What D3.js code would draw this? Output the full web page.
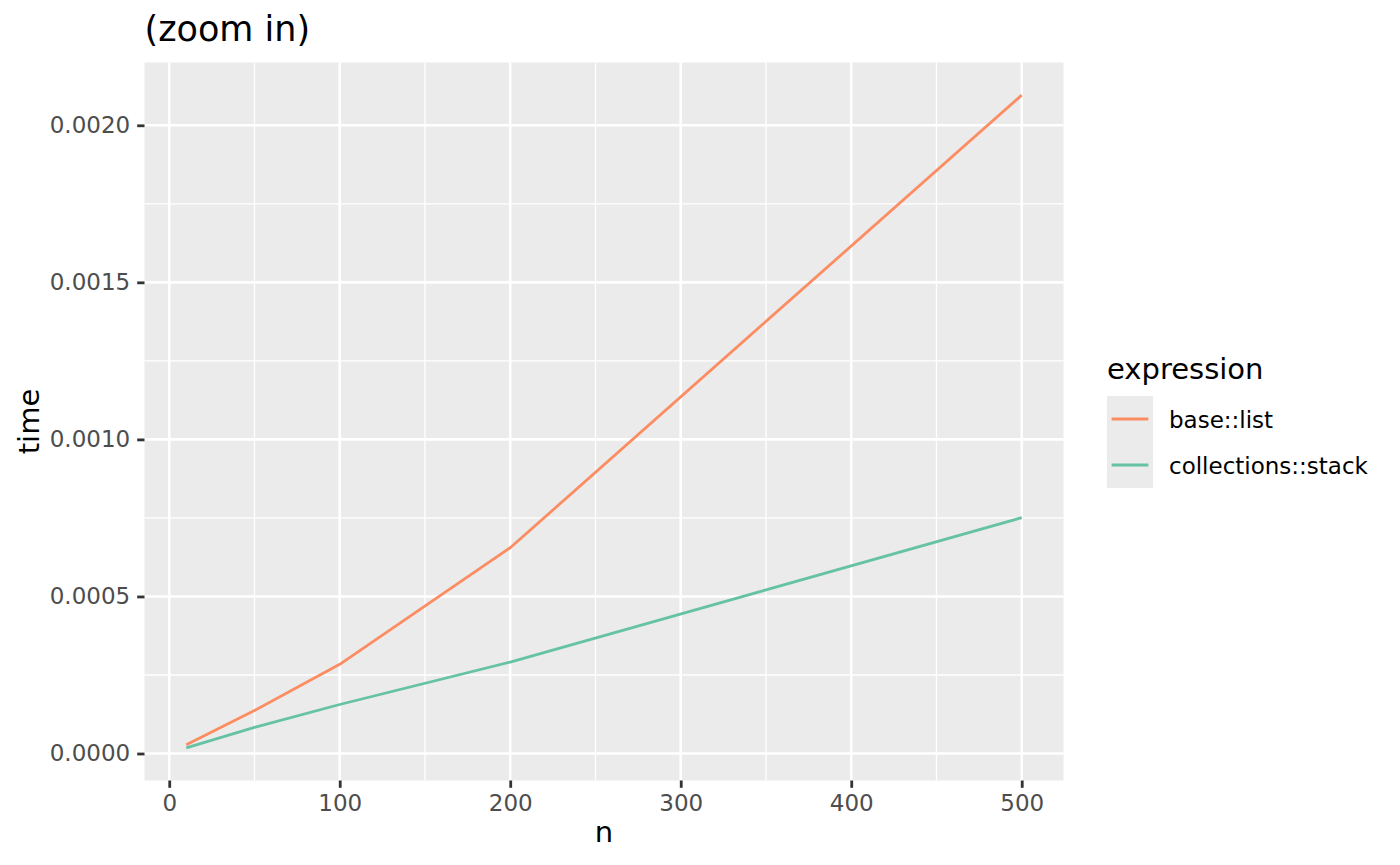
<!DOCTYPE html>
<html>
<head>
<meta charset="utf-8">
<script src="https://cdn.jsdelivr.net/npm/d3@7"></script>
<style>
  body { margin: 0; background: #ffffff; }
  svg text { font-family: "DejaVu Sans", sans-serif; }
</style>
</head>
<body>
<script>

// data
var nValues = [10, 50, 100, 200, 500];
var baseList = [0.000028, 0.000137, 0.000284, 0.000655, 0.002096];
var collectionsStack = [0.000018, 0.000083, 0.000156, 0.000291, 0.000751];
var seriesNames = ["base::list", "collections::stack"];
var seriesColors = ["#FC8D62", "#66C2A5"];
var xTicks = [0, 100, 200, 300, 400, 500];
var yTicks = [0, 0.0005, 0.0010, 0.0015, 0.0020];
var xMinor = [50, 150, 250, 350, 450];
var yMinor = [0.00025, 0.00075, 0.00125, 0.00175];

window.onload = function() {

  // size of the picture and of the panel
  var width = 1400;
  var height = 865;
  var panel = { left: 144.5, right: 1063.5, top: 62.5, bottom: 780.5 };

  var svg = d3.select("body")
              .append("svg")
              .attr("width", width)
              .attr("height", height);

  // ggplot style 5% expansion of the data range
  var allY = baseList.concat(collectionsStack);
  var xExt = d3.extent(nValues);
  var yExt = d3.extent(allY);
  var xPad = (xExt[1] - xExt[0]) * 0.05;
  var yPad = (yExt[1] - yExt[0]) * 0.05;

  var xScale = d3.scaleLinear()
                 .domain([xExt[0] - xPad, xExt[1] + xPad])
                 .range([panel.left, panel.right]);
  var yScale = d3.scaleLinear()
                 .domain([yExt[0] - yPad, yExt[1] + yPad])
                 .range([panel.bottom, panel.top]);

  // panel background
  svg.append("rect")
     .attr("x", panel.left)
     .attr("y", panel.top)
     .attr("width", panel.right - panel.left)
     .attr("height", panel.bottom - panel.top)
     .attr("fill", "#EBEBEB");

  // minor grid
  var grid = svg.append("g");
  grid.selectAll(".xminor")
      .data(xMinor)
      .enter().append("line")
      .attr("x1", function(d) { return xScale(d); })
      .attr("x2", function(d) { return xScale(d); })
      .attr("y1", panel.top)
      .attr("y2", panel.bottom)
      .attr("stroke", "#ffffff")
      .attr("stroke-width", 1.3);
  grid.selectAll(".yminor")
      .data(yMinor)
      .enter().append("line")
      .attr("x1", panel.left)
      .attr("x2", panel.right)
      .attr("y1", function(d) { return yScale(d); })
      .attr("y2", function(d) { return yScale(d); })
      .attr("stroke", "#ffffff")
      .attr("stroke-width", 1.3);

  // major grid
  grid.selectAll(".xmajor")
      .data(xTicks)
      .enter().append("line")
      .attr("x1", function(d) { return xScale(d); })
      .attr("x2", function(d) { return xScale(d); })
      .attr("y1", panel.top)
      .attr("y2", panel.bottom)
      .attr("stroke", "#ffffff")
      .attr("stroke-width", 2.6);
  grid.selectAll(".ymajor")
      .data(yTicks)
      .enter().append("line")
      .attr("x1", panel.left)
      .attr("x2", panel.right)
      .attr("y1", function(d) { return yScale(d); })
      .attr("y2", function(d) { return yScale(d); })
      .attr("stroke", "#ffffff")
      .attr("stroke-width", 2.6);

  // lines
  var series = [baseList, collectionsStack];
  var line = d3.line()
               .x(function(d, i) { return xScale(nValues[i]); })
               .y(function(d) { return yScale(d); });
  series.forEach(function(values, k) {
    svg.append("path")
       .datum(values)
       .attr("d", line)
       .attr("fill", "none")
       .attr("stroke", seriesColors[k])
       .attr("stroke-width", 2.8)
       .attr("stroke-linejoin", "round");
  });

  // axes
  var xAxis = d3.axisBottom(xScale)
                .tickValues(xTicks)
                .tickSize(7.3)
                .tickPadding(7);
  var yAxis = d3.axisLeft(yScale)
                .tickValues(yTicks)
                .tickSize(7.3)
                .tickPadding(7)
                .tickFormat(d3.format(".4f"));

  var gx = svg.append("g")
              .attr("transform", "translate(0," + panel.bottom + ")")
              .call(xAxis);
  var gy = svg.append("g")
              .attr("transform", "translate(" + panel.left + ",0)")
              .call(yAxis);

  [gx, gy].forEach(function(g) {
    g.select(".domain").remove();
    g.selectAll(".tick line")
     .attr("stroke", "#333333")
     .attr("stroke-width", 2.8);
    g.selectAll(".tick text")
     .attr("fill", "#4D4D4D")
     .style("font-size", "23px")
     .style("font-family", "DejaVu Sans, sans-serif");
  });

  // axis titles
  svg.append("text")
     .attr("x", (panel.left + panel.right) / 2)
     .attr("y", 842)
     .style("text-anchor", "middle")
     .style("font-size", "29px")
     .attr("fill", "#000000")
     .text("n");

  svg.append("text")
     .attr("transform", "translate(39," + ((panel.top + panel.bottom) / 2) + ") rotate(-90)")
     .style("text-anchor", "middle")
     .style("font-size", "29px")
     .attr("fill", "#000000")
     .text("time");

  // title
  svg.append("text")
     .attr("x", panel.left)
     .attr("y", 41)
     .style("font-size", "35px")
     .attr("fill", "#000000")
     .text("(zoom in)");

  // legend
  var legend = svg.append("g");
  legend.append("text")
        .attr("x", 1107)
        .attr("y", 379)
        .style("font-size", "29px")
        .attr("fill", "#000000")
        .text("expression");

  var keyTop = 396;
  var keyH = 46;
  seriesNames.forEach(function(name, k) {
    var y0 = keyTop + k * keyH;
    legend.append("rect")
          .attr("x", 1107)
          .attr("y", y0)
          .attr("width", 46)
          .attr("height", keyH)
          .attr("fill", "#EBEBEB");
    legend.append("line")
          .attr("x1", 1111.6)
          .attr("x2", 1148.4)
          .attr("y1", y0 + keyH / 2)
          .attr("y2", y0 + keyH / 2)
          .attr("stroke", seriesColors[k])
          .attr("stroke-width", 2.8);
    legend.append("text")
          .attr("x", 1169)
          .attr("y", y0 + keyH / 2 + 8.5)
          .style("font-size", "23px")
          .attr("fill", "#000000")
          .text(name);
  });
};

</script>
</body>
</html>
